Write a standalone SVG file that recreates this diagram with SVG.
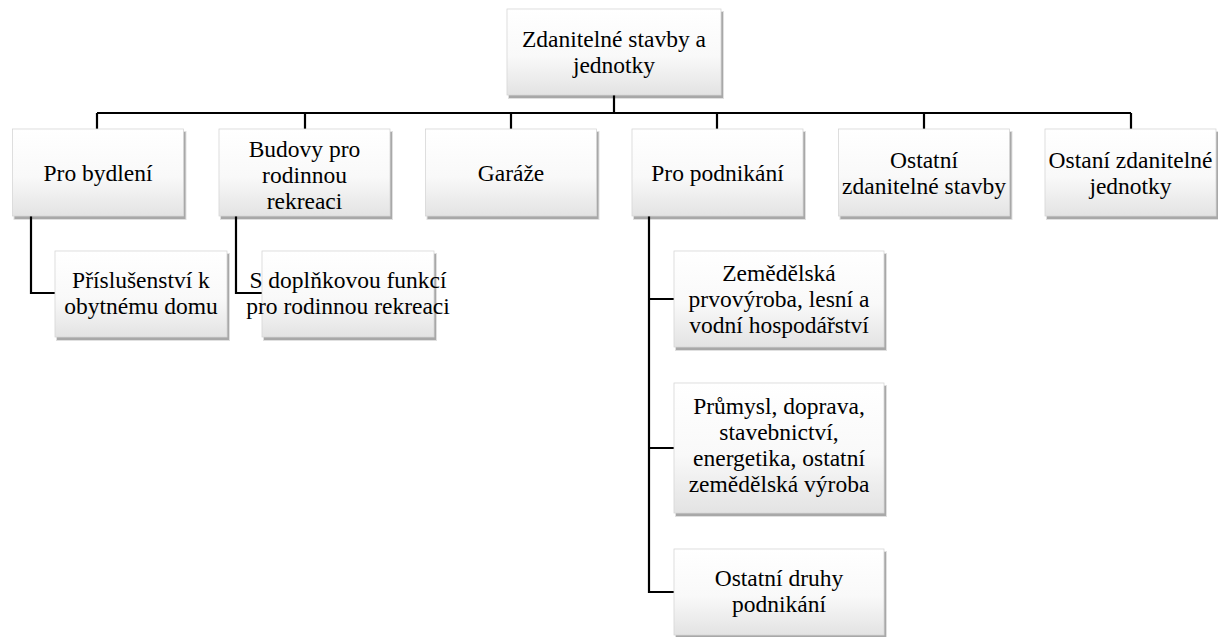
<svg xmlns="http://www.w3.org/2000/svg" width="1218" height="637" viewBox="0 0 1218 637">
<defs>
<linearGradient id="g" x1="0" y1="0" x2="0" y2="1">
<stop offset="0" stop-color="#ffffff"/>
<stop offset="0.55" stop-color="#f9f9f9"/>
<stop offset="1" stop-color="#e3e3e3"/>
</linearGradient>
</defs>
<rect width="1218" height="637" fill="#fff"/>
<g id="shadows" fill="#000">
<g fill-opacity="0.12">
<rect x="508" y="11" width="216" height="88"/>
<rect x="13.5" y="131" width="173" height="89"/>
<rect x="220" y="131" width="173" height="89"/>
<rect x="426.5" y="131" width="173" height="89"/>
<rect x="633" y="131" width="173" height="89"/>
<rect x="839.5" y="131" width="173" height="89"/>
<rect x="1046" y="131" width="172" height="89"/>
<rect x="56" y="253" width="174" height="88"/>
<rect x="263" y="253" width="174" height="88"/>
<rect x="675" y="253" width="212" height="98"/>
<rect x="675" y="385" width="212" height="132"/>
<rect x="675" y="551" width="212" height="86"/>
</g>
<g fill-opacity="0.25">
<rect x="509" y="12" width="214" height="86"/>
<rect x="14.5" y="132" width="171" height="87"/>
<rect x="221" y="132" width="171" height="87"/>
<rect x="427.5" y="132" width="171" height="87"/>
<rect x="634" y="132" width="171" height="87"/>
<rect x="840.5" y="132" width="171" height="87"/>
<rect x="1047" y="132" width="171" height="87"/>
<rect x="57" y="254" width="172" height="86"/>
<rect x="264" y="254" width="172" height="86"/>
<rect x="676" y="254" width="210" height="96"/>
<rect x="676" y="386" width="210" height="130"/>
<rect x="676" y="552" width="210" height="85"/>
</g>
</g>
<g id="connectors" fill="none" stroke="#000" stroke-width="2.2">
<path d="M614 95V113M97 113H1131M97 113V129M305 113V129M511 113V129M717 113V129M924 113V129M1131 113V129"/>
<path d="M31 216V293H55"/>
<path d="M236 216V293H262"/>
<path d="M649 216V592H674M649 299H674M649 448H674"/>
</g>
<g id="nodes" font-family="Liberation Serif" font-size="23.5" text-anchor="middle">
<g id="root">
<rect fill="url(#g)" stroke="#d6d6d6" stroke-width="0.8" x="507" y="9" width="214" height="86"/>
<text x="614" y="47">Zdanitelné stavby a</text>
<text x="614" y="73">jednotky</text>
</g>
<g id="pro-bydleni">
<rect fill="url(#g)" stroke="#d6d6d6" stroke-width="0.8" x="12.5" y="129" width="171" height="87"/>
<text x="98" y="181">Pro bydlení</text>
</g>
<g id="budovy">
<rect fill="url(#g)" stroke="#d6d6d6" stroke-width="0.8" x="219" y="129" width="171" height="87"/>
<text x="304.5" y="157">Budovy pro</text>
<text x="304.5" y="183">rodinnou</text>
<text x="304.5" y="209">rekreaci</text>
</g>
<g id="garaze">
<rect fill="url(#g)" stroke="#d6d6d6" stroke-width="0.8" x="425.5" y="129" width="171" height="87"/>
<text x="511" y="181">Garáže</text>
</g>
<g id="pro-podnikani">
<rect fill="url(#g)" stroke="#d6d6d6" stroke-width="0.8" x="632" y="129" width="171" height="87"/>
<text x="717.5" y="181">Pro podnikání</text>
</g>
<g id="ostatni-stavby">
<rect fill="url(#g)" stroke="#d6d6d6" stroke-width="0.8" x="838.5" y="129" width="171" height="87"/>
<text x="924" y="168">Ostatní</text>
<text x="924" y="194">zdanitelné stavby</text>
</g>
<g id="ostani-jednotky">
<rect fill="url(#g)" stroke="#d6d6d6" stroke-width="0.8" x="1045" y="129" width="171" height="87"/>
<text x="1130.5" y="168">Ostaní zdanitelné</text>
<text x="1130.5" y="194">jednotky</text>
</g>
<g id="prislusenstvi">
<rect fill="url(#g)" stroke="#d6d6d6" stroke-width="0.8" x="55" y="251" width="172" height="86"/>
<text x="141" y="288">Příslušenství k</text>
<text x="141" y="314">obytnému domu</text>
</g>
<g id="doplnkova">
<rect fill="url(#g)" stroke="#d6d6d6" stroke-width="0.8" x="262" y="251" width="172" height="86"/>
<text x="348" y="288">S doplňkovou funkcí</text>
<text x="348" y="314">pro rodinnou rekreaci</text>
</g>
<g id="zemedelska">
<rect fill="url(#g)" stroke="#d6d6d6" stroke-width="0.8" x="674" y="251" width="210" height="96"/>
<text x="779" y="281">Zemědělská</text>
<text x="779" y="307">prvovýroba, lesní a</text>
<text x="779" y="333">vodní hospodářství</text>
</g>
<g id="prumysl">
<rect fill="url(#g)" stroke="#d6d6d6" stroke-width="0.8" x="674" y="383" width="210" height="130"/>
<text x="779" y="414">Průmysl, doprava,</text>
<text x="779" y="440">stavebnictví,</text>
<text x="779" y="466">energetika, ostatní</text>
<text x="779" y="492">zemědělská výroba</text>
</g>
<g id="ostatni-druhy">
<rect fill="url(#g)" stroke="#d6d6d6" stroke-width="0.8" x="674" y="549" width="210" height="86"/>
<text x="779" y="586">Ostatní druhy</text>
<text x="779" y="612">podnikání</text>
</g>
</g>
</svg>
